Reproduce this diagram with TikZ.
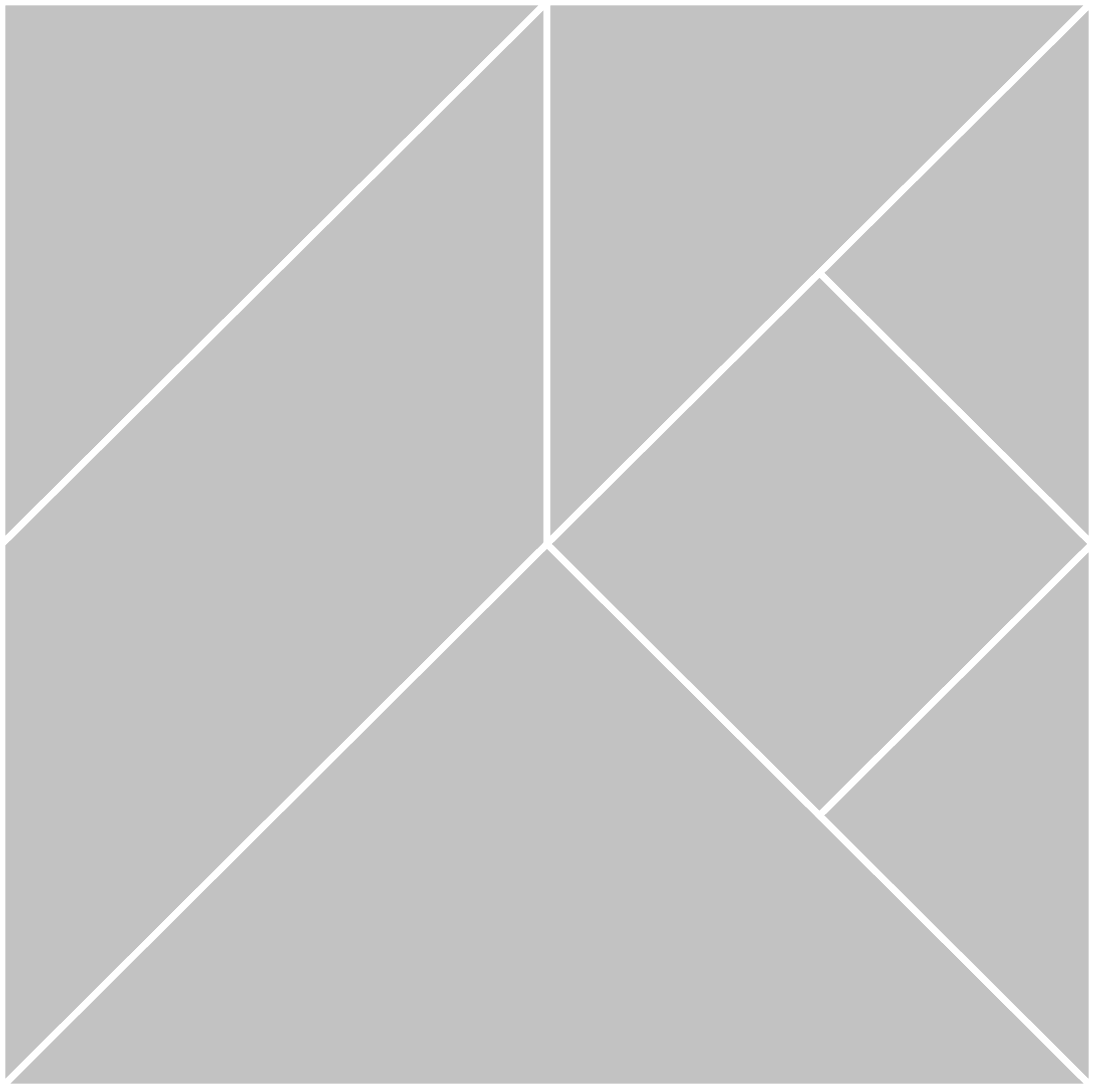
\documentclass[tikz,border=0pt]{standalone}
\usepackage[dvipsnames, svgnames]{xcolor}
\usepackage{tikz}
\usetikzlibrary{calc}
\definecolor{stipple}{gray}{0.76}
\tikzset{
    piece/.style={fill=stipple, draw=white, line width=1.9pt, line join=miter}
}

\begin{document}
\begin{tikzpicture}[x=0.01cm, y=-0.01cm]
            \useasboundingbox (0,0) rectangle (1094,1089);
            % corners and cut points of the square
            \coordinate (tl) at (2,2);
            \coordinate (tr) at (1092,2);
            \coordinate (br) at (1092,1087);
            \coordinate (bl) at (2,1087);
            \coordinate (tm) at (547,2);
            \coordinate (lm) at (2,544);
            \coordinate (rm) at (1092,544);
            \coordinate (c) at (547,544);
            \coordinate (q1) at (819.5,273);
            \coordinate (q2) at (819.5,815.5);

            \draw[piece] (tl) -- (tm) -- (lm) -- cycle;
            \draw[piece] (tm) -- (c) -- (bl) -- (lm) -- cycle;
            \draw[piece] (c) -- (br) -- (bl) -- cycle;
            \draw[piece] (tm) -- (tr) -- (c) -- cycle;
            \draw[piece] (tr) -- (rm) -- (q1) -- cycle;
            \draw[piece] (q1) -- (rm) -- (q2) -- (c) -- cycle;
            \draw[piece] (rm) -- (br) -- (q2) -- cycle;
        \end{tikzpicture}
\end{document}
